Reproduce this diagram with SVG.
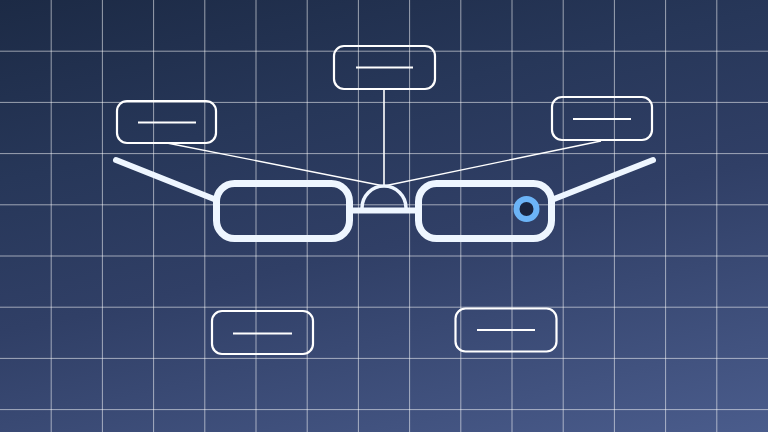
<svg xmlns="http://www.w3.org/2000/svg" width="768" height="432" viewBox="0 0 768 432">
  <defs>
    <linearGradient id="bg" x1="0" y1="0" x2="130" y2="576" gradientUnits="userSpaceOnUse">
      <stop offset="0" stop-color="#1c2a45"/>
      <stop offset="0.3" stop-color="#273759"/>
      <stop offset="0.55" stop-color="#303f66"/>
      <stop offset="1" stop-color="#4a5c8c"/>
    </linearGradient>
  </defs>
  <style>
    .grid line { stroke: #ffffff; stroke-opacity: 0.55; stroke-width: 1; }
    .frame { fill: none; stroke: #eef6ff; stroke-linecap: round; }
    .box rect { fill: none; stroke: #ffffff; stroke-width: 2.2; }
    .box line { stroke: #ffffff; stroke-width: 2.2; }
    .leader { stroke: #ffffff; fill: none; }
  </style>
  <rect width="768" height="432" fill="url(#bg)"/>
  <g class="grid">
    <line x1="51.2" y1="0" x2="51.2" y2="432"/>
    <line x1="102.4" y1="0" x2="102.4" y2="432"/>
    <line x1="153.6" y1="0" x2="153.6" y2="432"/>
    <line x1="204.8" y1="0" x2="204.8" y2="432"/>
    <line x1="256" y1="0" x2="256" y2="432"/>
    <line x1="307.2" y1="0" x2="307.2" y2="432"/>
    <line x1="358.4" y1="0" x2="358.4" y2="432"/>
    <line x1="409.6" y1="0" x2="409.6" y2="432"/>
    <line x1="460.8" y1="0" x2="460.8" y2="432"/>
    <line x1="512" y1="0" x2="512" y2="432"/>
    <line x1="563.2" y1="0" x2="563.2" y2="432"/>
    <line x1="614.4" y1="0" x2="614.4" y2="432"/>
    <line x1="665.6" y1="0" x2="665.6" y2="432"/>
    <line x1="716.8" y1="0" x2="716.8" y2="432"/>
    <line x1="0" y1="51.2" x2="768" y2="51.2"/>
    <line x1="0" y1="102.4" x2="768" y2="102.4"/>
    <line x1="0" y1="153.6" x2="768" y2="153.6"/>
    <line x1="0" y1="204.8" x2="768" y2="204.8"/>
    <line x1="0" y1="256" x2="768" y2="256"/>
    <line x1="0" y1="307.2" x2="768" y2="307.2"/>
    <line x1="0" y1="358.4" x2="768" y2="358.4"/>
    <line x1="0" y1="409.6" x2="768" y2="409.6"/>
  </g>
  <g id="connectors">
    <line class="leader" x1="167" y1="143" x2="384" y2="186" stroke-width="1.3"/>
    <line class="leader" x1="601" y1="141" x2="384" y2="186" stroke-width="1.3"/>
    <line class="leader" x1="384" y1="89" x2="384" y2="186" stroke-width="1.6"/>
  </g>
  <g id="glasses">
    <line class="frame" x1="116" y1="160" x2="214" y2="199" stroke-width="6" stroke-linecap="butt"/>
    <line class="frame" x1="554" y1="199" x2="653" y2="160" stroke-width="6" stroke-linecap="butt"/>
    <rect class="frame" x="216.5" y="183.5" width="133" height="55" rx="18" stroke-width="7"/>
    <rect class="frame" x="418.5" y="183.5" width="133" height="55" rx="18" stroke-width="7"/>
    <line class="frame" x1="350" y1="210.5" x2="418" y2="210.5" stroke-width="6" stroke-linecap="butt"/>
    <path class="frame" d="M362 208 A22 22 0 0 1 406 208" stroke-width="3.5" stroke-linecap="butt"/>
  </g>
  <g id="sensor">
    <circle cx="526.5" cy="209" r="10" fill="#1a2540" stroke="#6cb4f7" stroke-width="6"/>
  </g>
  <g id="box-top-left" class="box">
    <rect x="117" y="101" width="99" height="42" rx="10"/>
    <line x1="138" y1="122.5" x2="196" y2="122.5"/>
  </g>
  <g id="box-top" class="box">
    <rect x="334" y="46" width="101" height="43" rx="10"/>
    <line x1="356" y1="67.5" x2="413" y2="67.5"/>
  </g>
  <g id="box-top-right" class="box">
    <rect x="552" y="97" width="100" height="43" rx="10"/>
    <line x1="573" y1="119" x2="631" y2="119"/>
  </g>
  <g id="box-bottom-left" class="box">
    <rect x="212" y="311" width="101" height="43" rx="10"/>
    <line x1="233" y1="333.5" x2="292" y2="333.5"/>
  </g>
  <g id="box-bottom-right" class="box">
    <rect x="455.5" y="308.5" width="101" height="43" rx="10"/>
    <line x1="477" y1="330" x2="535" y2="330"/>
  </g>
</svg>
